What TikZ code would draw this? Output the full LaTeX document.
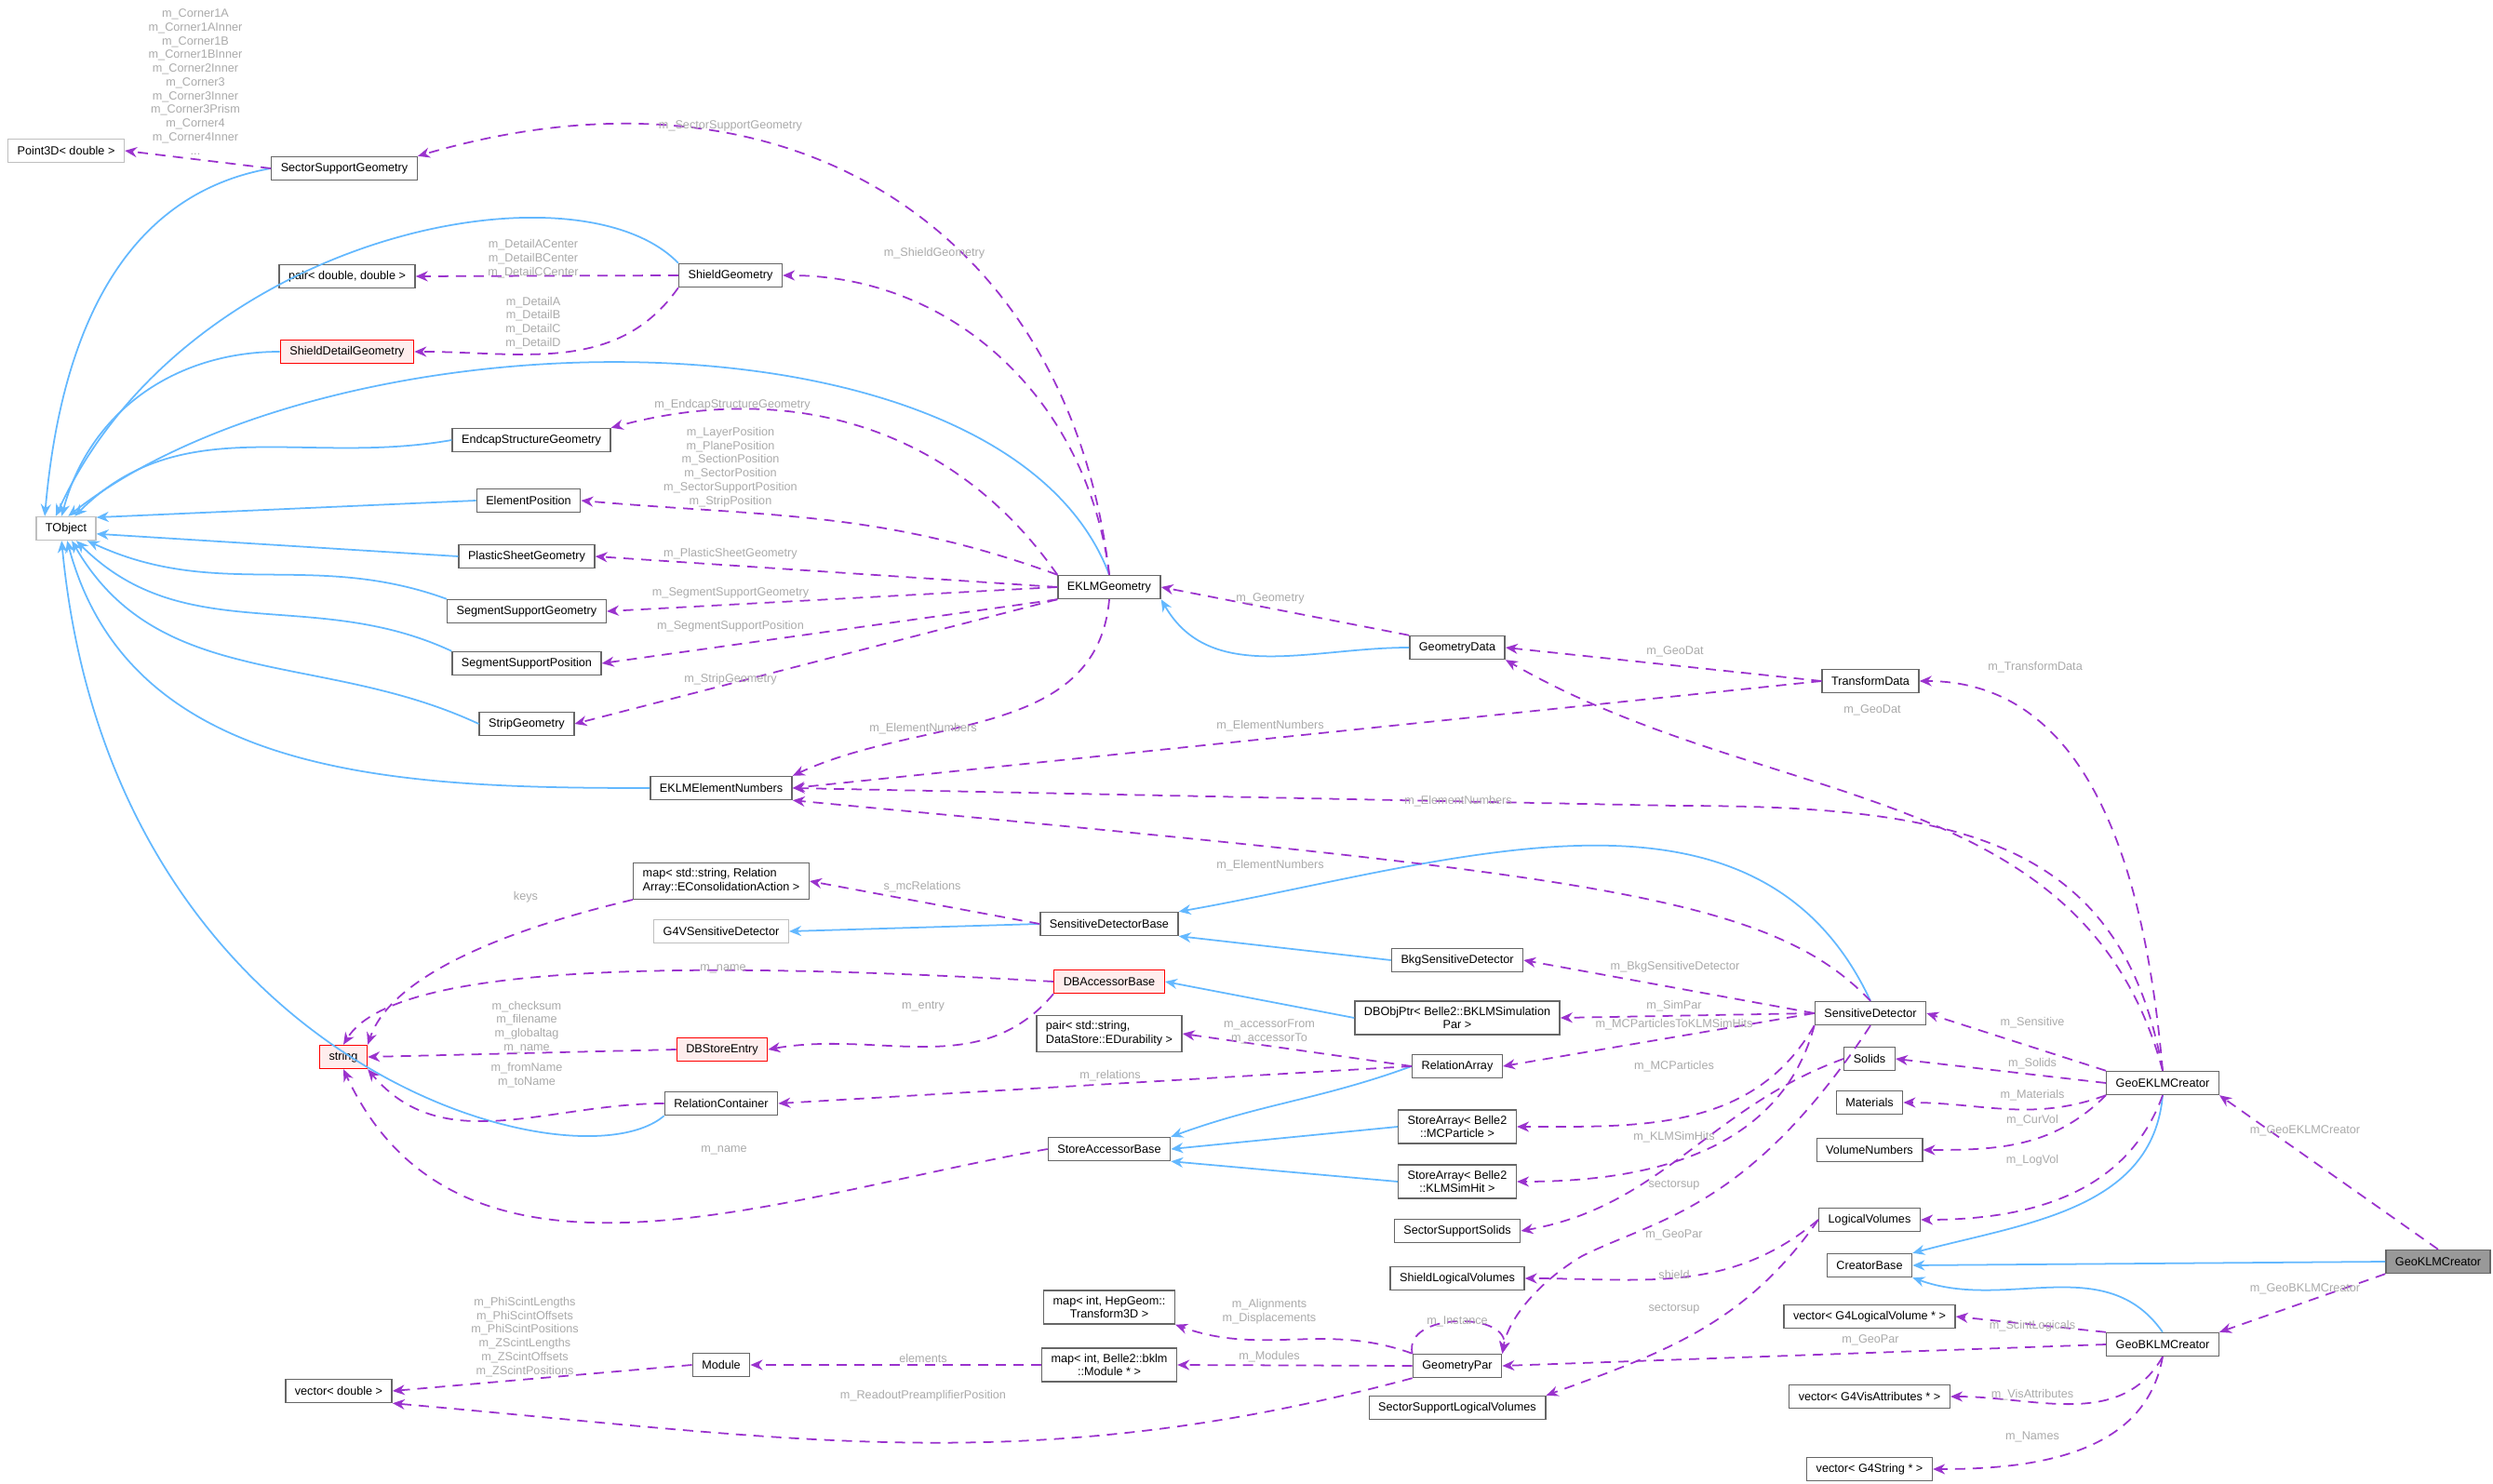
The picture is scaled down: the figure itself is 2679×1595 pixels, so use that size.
\documentclass[tikz,border=0pt]{standalone}
\usepackage{fontspec}
\setmainfont{Liberation Sans}
\usepackage{tikz}
\usetikzlibrary{arrows.meta, positioning, calc}
\definecolor{inhblue}{RGB}{99, 184, 255}
\definecolor{usepurple}{RGB}{154, 50, 205}
\definecolor{lblgray}{RGB}{170, 170, 170}
\newcommand{\lbl}[3]{\node[lbl] at (#1,-#2) {#3};}

\begin{document}
\begin{tikzpicture}[
    x=0.01cm, y=0.01cm,
    cls/.style={draw=black!60, fill=white, line width=0.4pt, minimum height=0.25cm,
                inner xsep=1mm, inner ysep=0.6mm, align=center,
                font=\fontsize{3.6}{4.2}\selectfont},
    ext/.style={cls, draw=black!25},
    red/.style={cls, draw=red, fill=red!7},
    sel/.style={cls, fill=black!40},
    lbl/.style={align=center, text=lblgray, font=\fontsize{3.6}{4.2}\selectfont, inner sep=0pt},
    inh/.style={-{Stealth[length=1.3mm, width=1.1mm]}, inhblue, line width=0.5pt},
    use/.style={-{Stealth[length=1.3mm, width=1.1mm]}, usepurple, line width=0.5pt,
                dash pattern=on 1.1mm off 0.8mm},
  ]
    \useasboundingbox (0,0) rectangle (2679,-1595);

    % left column
    \node[ext] (p3d) at (71,-162) {Point3D< double >};
    \node[ext] (tobj) at (71,-568) {TObject};
    \node[red] (str) at (369,-1136) {string};
    \node[cls] (vecd) at (364,-1495) {vector< double >};

    % geometry classes
    \node[cls] (ssg) at (370,-181) {SectorSupportGeometry};
    \node[cls] (pdd) at (373,-297) {pair< double, double >};
    \node[red] (sdg) at (373,-378) {ShieldDetailGeometry};
    \node[cls] (shg) at (785,-296) {ShieldGeometry};
    \node[cls] (esg) at (571,-473) {EndcapStructureGeometry};
    \node[cls] (elp) at (568,-538) {ElementPosition};
    \node[cls] (psg) at (566,-598) {PlasticSheetGeometry};
    \node[cls] (sgg) at (566,-657) {SegmentSupportGeometry};
    \node[cls] (sgp) at (566,-713) {SegmentSupportPosition};
    \node[cls] (stg) at (566,-778) {StripGeometry};
    \node[cls] (eln) at (775,-847) {EKLMElementNumbers};
    \node[cls] (ekg) at (1192,-631) {EKLMGeometry};
    \node[cls] (gda) at (1566,-696) {GeometryData};
    \node[cls] (trd) at (2010,-732) {TransformData};

    % data store classes
    \node[cls, align=left] (rmap) at (775,-947) {map< std::string, Relation\\Array::EConsolidationAction >};
    \node[ext] (g4sd) at (775,-1001) {G4VSensitiveDetector};
    \node[cls] (sdb) at (1192,-993) {SensitiveDetectorBase};
    \node[cls] (bkg) at (1566,-1032) {BkgSensitiveDetector};
    \node[red] (dba) at (1192,-1055) {DBAccessorBase};
    \node[cls] (dbo) at (1566,-1094) {DBObjPtr< Belle2::BKLMSimulation\\Par >};
    \node[cls, align=left] (pdur) at (1192,-1111) {pair< std::string,\\DataStore::EDurability >};
    \node[red] (dbe) at (776,-1128) {DBStoreEntry};
    \node[cls] (rlc) at (775,-1186) {RelationContainer};
    \node[cls] (rla) at (1566,-1146) {RelationArray};
    \node[cls] (sab) at (1192,-1235) {StoreAccessorBase};
    \node[cls] (sa1) at (1566,-1211) {StoreArray< Belle2\\::MCParticle >};
    \node[cls] (sa2) at (1566,-1270) {StoreArray< Belle2\\::KLMSimHit >};
    \node[cls] (sds) at (2010,-1089) {SensitiveDetector};

    % bklm classes
    \node[cls] (sss) at (1566,-1323) {SectorSupportSolids};
    \node[cls] (slv) at (1566,-1374) {ShieldLogicalVolumes};
    \node[cls] (sslv) at (1566,-1513) {SectorSupportLogicalVolumes};
    \node[cls] (gpr) at (1566,-1468) {GeometryPar};
    \node[cls] (mtr) at (1192,-1405) {map< int, HepGeom::\\Transform3D >};
    \node[cls] (mmd) at (1192,-1467) {map< int, Belle2::bklm\\::Module * >};
    \node[cls] (mod) at (775,-1467) {Module};

    % creators
    \node[cls] (sol) at (2009,-1138) {Solids};
    \node[cls] (mat) at (2009,-1185) {Materials};
    \node[cls] (vnm) at (2009,-1236) {VolumeNumbers};
    \node[cls] (lgv) at (2009,-1311) {LogicalVolumes};
    \node[cls] (crb) at (2009,-1360) {CreatorBase};
    \node[cls] (vlv) at (2009,-1415) {vector< G4LogicalVolume * >};
    \node[cls] (vva) at (2009,-1501) {vector< G4VisAttributes * >};
    \node[cls] (vst) at (2009,-1579) {vector< G4String * >};
    \node[cls] (gek) at (2324,-1164) {GeoEKLMCreator};
    \node[cls] (gbk) at (2324,-1445) {GeoBKLMCreator};
    \node[sel] (gkl) at (2620,-1356) {GeoKLMCreator};

    % inheritance
    \draw[inh] (ssg.west) to[out=190, in=85] (tobj.150);
    \draw[inh] (shg.north west) .. controls (620,-170) and (200,-250) .. (tobj.130);
    \draw[inh] (sdg.west) to[out=180, in=75] (tobj.110);
    \draw[inh] (ekg.north) .. controls (1080,-320) and (360,-330) .. (tobj.80);
    \draw[inh] (esg.west) to[out=190, in=45] (tobj.55);
    \draw[inh] (elp.west) -- (tobj.20);
    \draw[inh] (psg.west) -- (tobj.-10);
    \draw[inh] (sgg.north west) to[out=160, in=-25] (tobj.-30);
    \draw[inh] (sgp.north west) to[out=155, in=-45] (tobj.-50);
    \draw[inh] (stg.west) to[out=155, in=-60] (tobj.-65);
    \draw[inh] (eln.west) to[out=180, in=-75] (tobj.-85);
    \draw[inh] (rlc.south west) .. controls (620,-1280) and (120,-1150) .. (tobj.-110);
    \draw[inh] (gda.west) to[out=180, in=-60] (ekg.south east);
    \draw[inh] (sdb.west) -- (g4sd.east);
    \draw[inh] (bkg.west) -- (sdb.south east);
    \draw[inh] (sds.north) to[out=115, in=10] (sdb.north east);
    \draw[inh] (dbo.west) -- (dba.east);
    \draw[inh] (rla.west) to[out=200, in=20] (sab.north east);
    \draw[inh] (sa1.west) -- (sab.east);
    \draw[inh] (sa2.west) -- (sab.south east);
    \draw[inh] (gek.south) to[out=265, in=15] (crb.north east);
    \draw[inh] (gkl.west) -- (crb.east);
    \draw[inh] (gbk.north) to[out=125, in=-20] (crb.south east);

    % members
    \draw[use] (ssg.west) -- (p3d.east);
    \draw[use] (ekg.north) .. controls (1150,-250) and (850,-50) .. (ssg.north east);
    \draw[use] (shg.west) -- (pdd.east);
    \draw[use] (shg.south west) to[out=235, in=0] (sdg.east);
    \draw[use] (ekg.north) to[out=97, in=0] (shg.east);
    \draw[use] (ekg.north west) to[out=125, in=15] (esg.north east);
    \draw[use] (ekg.north west) to[out=160, in=-5] (elp.east);
    \draw[use] (ekg.west) -- (psg.east);
    \draw[use] (ekg.west) -- (sgg.east);
    \draw[use] (ekg.south west) -- (sgp.east);
    \draw[use] (ekg.south west) -- (stg.east);
    \draw[use] (ekg.south) to[out=265, in=25] (eln.north east);
    \draw[use] (gda.north west) -- (ekg.east);
    \draw[use] (trd.west) -- (gda.east);
    \draw[use] (trd.west) -- (eln.east);
    \draw[use] (gek.north) to[out=105, in=-30] (gda.south east);
    \draw[use] (gek.north) to[out=95, in=0] (trd.east);
    \draw[use] (gek.north) .. controls (2280,-900) and (2100,-866) .. (1800,-866)
      -- (eln.east);
    \draw[use] (sds.north) .. controls (1900,-960) and (1700,-940) .. (eln.south east);
    \draw[use] (sdb.west) -- (rmap.east);
    \draw[use] (rmap.south west) .. controls (540,-1000) and (420,-1050) .. (str.north east);
    \draw[use] (dba.west) .. controls (700,-1030) and (420,-1040) .. (str.north);
    \draw[use] (dba.south west) to[out=230, in=10] (dbe.east);
    \draw[use] (dbe.west) -- (str.east);
    \draw[use] (rlc.west) to[out=180, in=-50] (str.south east);
    \draw[use] (sab.west) to[out=190, in=-65] (str.south);
    \draw[use] (rla.west) -- (pdur.east);
    \draw[use] (rla.west) -- (rlc.east);
    \draw[use] (sds.west) -- (bkg.east);
    \draw[use] (sds.west) -- (dbo.east);
    \draw[use] (sds.west) -- (rla.east);
    \draw[use] (sds.south west) to[out=240, in=0] (sa1.east);
    \draw[use] (sds.south west) to[out=255, in=0] (sa2.east);
    \draw[use] (gek.north west) -- (sds.east);
    \draw[use] (gek.west) -- (sol.east);
    \draw[use] (gek.south west) to[out=200, in=0] (mat.east);
    \draw[use] (gek.south west) to[out=225, in=0] (vnm.east);
    \draw[use] (gek.south) to[out=250, in=0] (lgv.east);
    \draw[use] (sol.west) to[out=200, in=10] (sss.east);
    \draw[use] (lgv.west) to[out=220, in=0] (slv.east);
    \draw[use] (lgv.west) to[out=235, in=20] (sslv.north east);
    \draw[use] (sds.south) .. controls (1880,-1300) and (1780,-1310) .. (1700,-1350)
      .. controls (1650,-1380) and (1620,-1420) .. (gpr.north east);
    \draw[use] (gpr.north west) .. controls +(-10,45) and +(10,45) .. (gpr.north east);
    \draw[use] (gpr.north west) to[out=160, in=-20] (mtr.south east);
    \draw[use] (gpr.west) -- (mmd.east);
    \draw[use] (mmd.west) -- (mod.east);
    \draw[use] (mod.west) -- (vecd.east);
    \draw[use] (gpr.south west) to[out=195, in=-5] (vecd.south east);
    \draw[use] (gbk.west) -- (gpr.east);
    \draw[use] (gbk.north west) -- (vlv.east);
    \draw[use] (gbk.south) to[out=240, in=0] (vva.east);
    \draw[use] (gbk.south) to[out=260, in=0] (vst.east);
    \draw[use] (gkl.north) -- (gek.south east);
    \draw[use] (gkl.south west) -- (gbk.north east);

    % member labels
    \lbl{210}{88}{m\_Corner1A\\m\_Corner1AInner\\m\_Corner1B\\m\_Corner1BInner\\m\_Corner2Inner\\m\_Corner3\\m\_Corner3Inner\\m\_Corner3Prism\\m\_Corner4\\m\_Corner4Inner\\...}
    \lbl{785}{135}{m\_SectorSupportGeometry}
    \lbl{573}{278}{m\_DetailACenter\\m\_DetailBCenter\\m\_DetailCCenter}
    \lbl{573}{347}{m\_DetailA\\m\_DetailB\\m\_DetailC\\m\_DetailD}
    \lbl{1004}{272}{m\_ShieldGeometry}
    \lbl{787}{435}{m\_EndcapStructureGeometry}
    \lbl{785}{502}{m\_LayerPosition\\m\_PlanePosition\\m\_SectionPosition\\m\_SectorPosition\\m\_SectorSupportPosition\\m\_StripPosition}
    \lbl{785}{595}{m\_PlasticSheetGeometry}
    \lbl{785}{637}{m\_SegmentSupportGeometry}
    \lbl{785}{673}{m\_SegmentSupportPosition}
    \lbl{785}{730}{m\_StripGeometry}
    \lbl{992}{783}{m\_ElementNumbers}
    \lbl{1365}{643}{m\_Geometry}
    \lbl{1800}{700}{m\_GeoDat}
    \lbl{2187}{717}{m\_TransformData}
    \lbl{2012}{763}{m\_GeoDat}
    \lbl{1365}{780}{m\_ElementNumbers}
    \lbl{1567}{861}{m\_ElementNumbers}
    \lbl{1365}{930}{m\_ElementNumbers}
    \lbl{565}{964}{keys}
    \lbl{991}{953}{s\_mcRelations}
    \lbl{777}{1041}{m\_name}
    \lbl{992}{1082}{m\_entry}
    \lbl{566}{1104}{m\_checksum\\m\_filename\\m\_globaltag\\m\_name}
    \lbl{1800}{1039}{m\_BkgSensitiveDetector}
    \lbl{1799}{1081}{m\_SimPar}
    \lbl{1799}{1101}{m\_MCParticlesToKLMSimHits}
    \lbl{1364}{1109}{m\_accessorFrom\\m\_accessorTo}
    \lbl{566}{1156}{m\_fromName\\m\_toName}
    \lbl{1193}{1156}{m\_relations}
    \lbl{1799}{1146}{m\_MCParticles}
    \lbl{778}{1236}{m\_name}
    \lbl{2184}{1099}{m\_Sensitive}
    \lbl{2184}{1143}{m\_Solids}
    \lbl{2184}{1177}{m\_Materials}
    \lbl{2184}{1204}{m\_CurVol}
    \lbl{2184}{1247}{m\_LogVol}
    \lbl{2477}{1215}{m\_GeoEKLMCreator}
    \lbl{1799}{1222}{m\_KLMSimHits}
    \lbl{1799}{1274}{sectorsup}
    \lbl{1799}{1327}{m\_GeoPar}
    \lbl{1799}{1370}{shield}
    \lbl{1799}{1407}{sectorsup}
    \lbl{2477}{1385}{m\_GeoBKLMCreator}
    \lbl{2184}{1425}{m\_ScintLogicals}
    \lbl{2010}{1440}{m\_GeoPar}
    \lbl{1566}{1420}{m\_Instance}
    \lbl{1364}{1410}{m\_Alignments\\m\_Displacements}
    \lbl{1364}{1458}{m\_Modules}
    \lbl{992}{1460}{elements}
    \lbl{564}{1437}{m\_PhiScintLengths\\m\_PhiScintOffsets\\m\_PhiScintPositions\\m\_ZScintLengths\\m\_ZScintOffsets\\m\_ZScintPositions}
    \lbl{992}{1500}{m\_ReadoutPreamplifierPosition}
    \lbl{2184}{1499}{m\_VisAttributes}
    \lbl{2184}{1544}{m\_Names}
  \end{tikzpicture}
\end{document}
